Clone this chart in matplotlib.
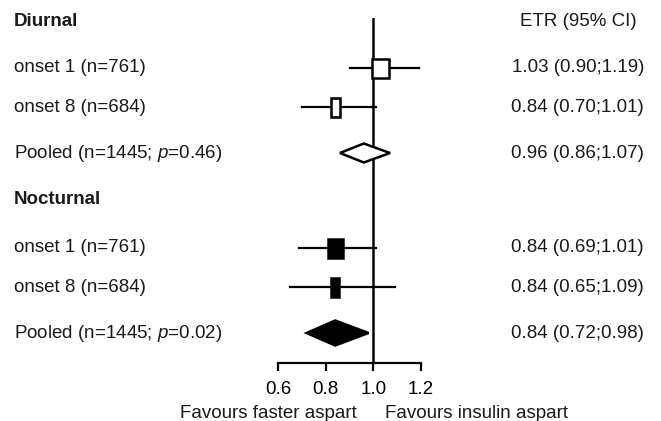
import matplotlib
matplotlib.use("Agg")
import matplotlib.pyplot as plt
from matplotlib.patches import Rectangle, Polygon
from matplotlib.transforms import blended_transform_factory

plt.rcParams['font.family'] = ['Liberation Sans', 'DejaVu Sans']
plt.rcParams['mathtext.fontset'] = 'custom'
plt.rcParams['mathtext.rm'] = 'Liberation Sans'
plt.rcParams['mathtext.it'] = 'Liberation Sans:italic'

# Estimated treatment ratios with 95% CI
groups = ["Diurnal", "Nocturnal"]
labels = ["onset 1 (n=761)", "onset 8 (n=684)"]
pooled_labels = ["Pooled (n=1445; $p$=0.46)", "Pooled (n=1445; $p$=0.02)"]
est = [[1.03, 0.84, 0.96], [0.84, 0.84, 0.84]]
lo = [[0.90, 0.70, 0.86], [0.69, 0.65, 0.72]]
hi = [[1.19, 1.01, 1.07], [1.01, 1.09, 0.98]]
x_ticks = [0.6, 0.8, 1.0, 1.2]

# layout: vertical positions (pixel-like units, top down) for each block
header_y = [22, 200]
row_y = [[68, 107, 153], [248, 287, 333]]
box_w = [[0.074, 0.038], [0.063, 0.034]]
box_h = 19
diamond_h = [19, 25]
filled = [False, True]

fig = plt.figure(figsize=(6.61, 4.21), dpi=100)
ax = fig.add_axes([278 / 661, 1 - 363 / 421, 143 / 661, 345 / 421])
ax.set_xlim(0.6, 1.2)
ax.set_ylim(363, 18)

fs = 13.5
for s in ["top", "right", "left"]:
    ax.spines[s].set_visible(False)
ax.spines["bottom"].set_linewidth(1.6)
ax.set_yticks([])
ax.set_xticks(x_ticks)
ax.set_xticklabels([f"{t:.1f}" for t in x_ticks], fontsize=fs)
ax.tick_params(axis="x", length=6, width=1.6, pad=7)
ax.axvline(1.0, color="black", lw=1.8)

lab_tr = blended_transform_factory(fig.transFigure, ax.transData)
txt_color = "#1a1a1a"

for g in range(2):
    face = "black" if filled[g] else "white"
    ax.text(14 / 661, header_y[g], groups[g], transform=lab_tr, fontsize=fs,
            fontweight="bold", va="center", ha="left", color=txt_color)
    for i in range(2):
        y = row_y[g][i]
        ax.plot([lo[g][i], hi[g][i]], [y, y], color="black", lw=1.6, zorder=2)
        w = box_w[g][i]
        ax.add_patch(Rectangle((est[g][i] - w / 2, y - box_h / 2), w, box_h,
                               facecolor=face, edgecolor="black", lw=1.8, zorder=3))
        ax.text(14 / 661, y, labels[i], transform=lab_tr, fontsize=fs,
                va="center", ha="left", color=txt_color)
    y = row_y[g][2]
    h = diamond_h[g]
    ax.add_patch(Polygon([(lo[g][2], y), (est[g][2], y - h / 2), (hi[g][2], y),
                          (est[g][2], y + h / 2)], closed=True,
                         facecolor=face, edgecolor="black", lw=1.8, zorder=3))
    ax.text(14 / 661, y, pooled_labels[g], transform=lab_tr, fontsize=fs,
            va="center", ha="left", color=txt_color)
    for i in range(3):
        ax.text(644 / 661, row_y[g][i],
                f"{est[g][i]:.2f} ({lo[g][i]:.2f};{hi[g][i]:.2f})",
                transform=lab_tr, fontsize=fs, va="center", ha="right",
                color=txt_color)

ax.text(637 / 661, header_y[0], "ETR (95% CI)", transform=lab_tr, fontsize=fs,
        va="center", ha="right", color=txt_color)

fig.text(268 / 661, 1 - 413 / 421, "Favours faster aspart", fontsize=fs,
         ha="center", va="center", color=txt_color)
fig.text(477 / 661, 1 - 413 / 421, "Favours insulin aspart", fontsize=fs,
         ha="center", va="center", color=txt_color)

fig.savefig("out.png", dpi=100)
